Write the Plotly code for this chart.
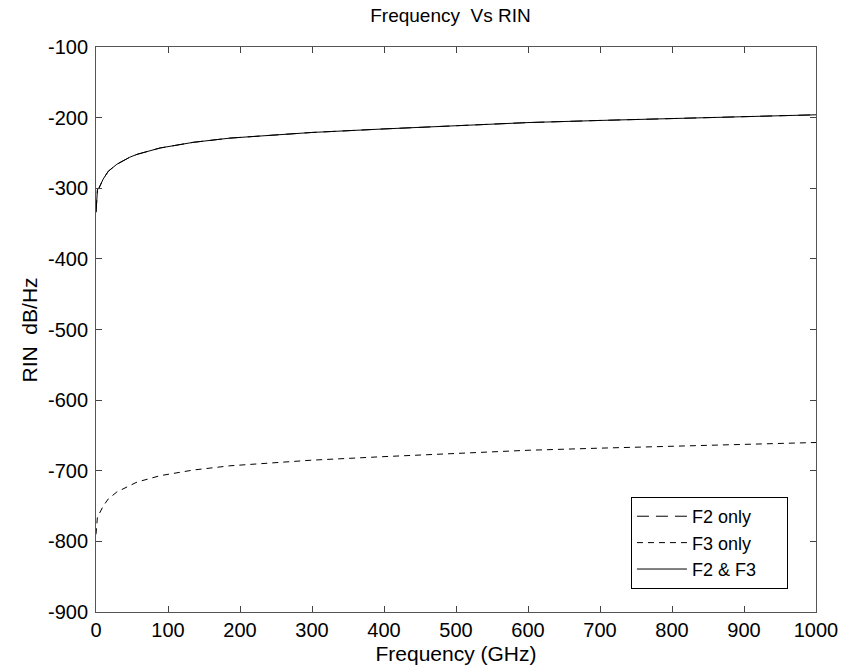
import plotly.graph_objects as go

freq_ghz = [0, 1, 2, 4, 6, 10, 17, 29, 47, 57, 89, 135, 186, 300, 400, 500, 600, 700, 800, 900, 1000]
rin_f2_f3 = [-334, -318, -302, -300, -295, -287, -276, -266, -256, -252, -243, -235, -229, -221, -216, -211, -207, -204, -201, -198, -196]
rin_f2_only = list(rin_f2_f3)
rin_f3_only = [-790, -775, -765, -762, -758, -750, -740, -730, -721, -716, -707, -699, -693, -685, -680, -675, -671, -668, -665, -662, -660]

x_ticks = [0, 100, 200, 300, 400, 500, 600, 700, 800, 900, 1000]
x_tick_labels = ["0", "100", "200", "300", "400", "500", "600", "700", "800", "900", "1000"]
y_ticks = [-900, -800, -700, -600, -500, -400, -300, -200, -100]
y_tick_labels = ["-900", "-800", "-700", "-600", "-500", "-400", "-300", "-200", "-100"]

font = "Liberation Sans, Arial, sans-serif"
pad = "\u00a0" * 5

fig = go.Figure()
fig.add_trace(go.Scatter(x=freq_ghz, y=rin_f2_only, mode="lines", name="F2 only" + pad,
                         line=dict(color="black", width=1, dash="12px,7px")))
fig.add_trace(go.Scatter(x=freq_ghz, y=rin_f3_only, mode="lines", name="F3 only" + pad,
                         line=dict(color="black", width=1, dash="6px,5px")))
fig.add_trace(go.Scatter(x=freq_ghz, y=rin_f2_f3, mode="lines", name="F2 & F3" + pad,
                         line=dict(color="black", width=1)))

fig.update_layout(
    width=842, height=669,
    margin=dict(l=96, r=26, t=47, b=57, autoexpand=False),
    paper_bgcolor="white", plot_bgcolor="white",
    font=dict(family=font, size=20, color="black"),
    title=dict(text="Frequency  Vs RIN", x=0.535, xanchor="center",
               y=1 - 15 / 669, yanchor="middle", font=dict(size=19)),
    showlegend=True,
    legend=dict(x=0.743, xanchor="left", y=0.2035, yanchor="top",
                bordercolor="black", borderwidth=1, bgcolor="white",
                font=dict(size=18), tracegroupgap=0, itemwidth=50),
    annotations=[dict(text="RIN  dB/Hz", xref="paper", yref="paper",
                      x=-0.0917, y=0.5, xanchor="center", yanchor="middle",
                      textangle=-90, showarrow=False, font=dict(size=21))],
)
fig.update_xaxes(range=[0, 1000], tickvals=x_ticks, ticktext=x_tick_labels,
                 ticks="inside", ticklen=6, automargin=False,
                 showline=True, linecolor="#555", linewidth=1, mirror="ticks",
                 showgrid=False, zeroline=False, ticklabelstandoff=0,
                 title=dict(text="Frequency (GHz)", standoff=6, font=dict(size=21)))
fig.update_yaxes(range=[-900, -100], tickvals=y_ticks, ticktext=y_tick_labels,
                 ticks="inside", ticklen=6, automargin=False,
                 showline=True, linecolor="#555", linewidth=1, mirror="ticks",
                 showgrid=False, zeroline=False, ticklabelstandoff=3)

fig.write_html("out.html", config={"displayModeBar": False},
               post_script="document.body.style.margin='0';document.body.style.overflow='hidden';")
